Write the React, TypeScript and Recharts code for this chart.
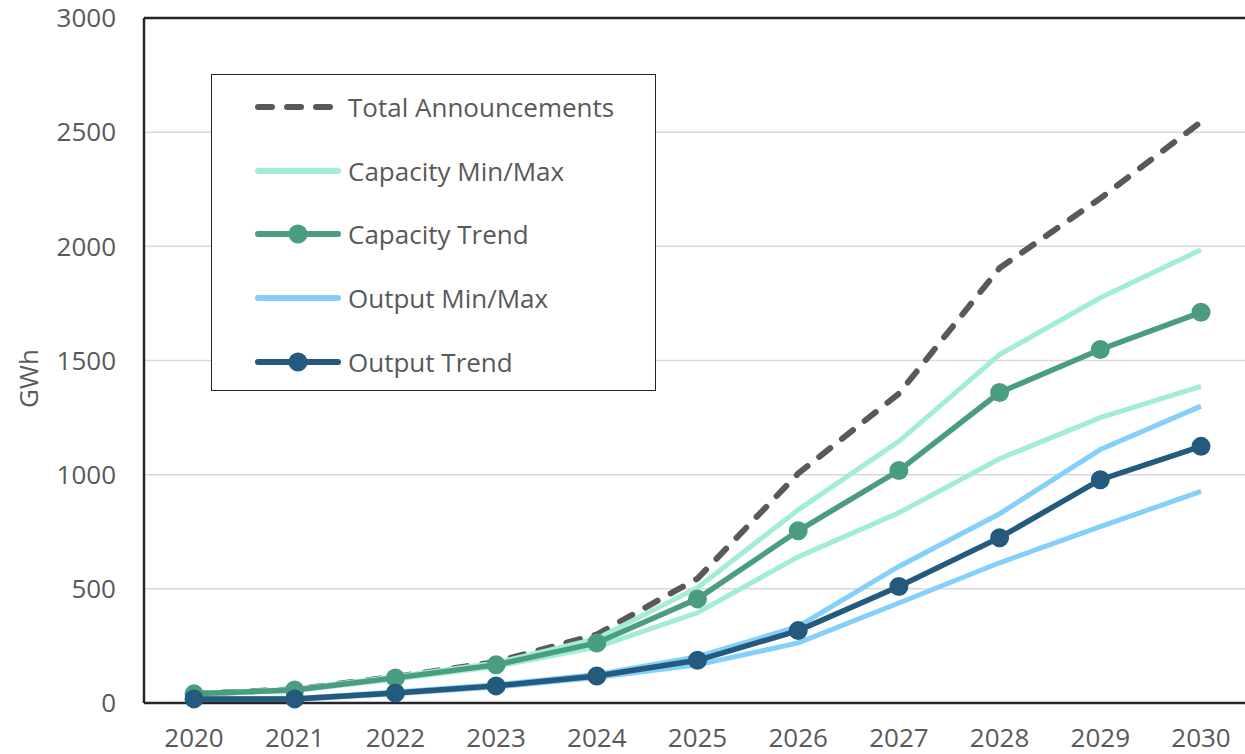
import { LineChart, Line, XAxis, YAxis, CartesianGrid, ReferenceLine } from 'recharts';

const years = ['2020', '2021', '2022', '2023', '2024', '2025', '2026', '2027', '2028', '2029', '2030'];
const totalAnnouncements = [40, 60, 115, 180, 300, 545, 1005, 1355, 1905, 2210, 2545];
const capacityMax = [42, 60, 115, 175, 282, 505, 846, 1146, 1526, 1775, 1985];
const capacityMin = [38, 55, 105, 160, 245, 395, 640, 833, 1070, 1250, 1387];
const capacityTrend = [40, 57, 110, 167, 263, 456, 754, 1018, 1360, 1548, 1711];
const outputMax = [20, 20, 48, 80, 125, 203, 335, 598, 829, 1110, 1300];
const outputMin = [15, 15, 40, 70, 112, 167, 263, 438, 614, 772, 927];
const outputTrend = [18, 18, 44, 75, 118, 187, 317, 510, 724, 978, 1124];
const yTicks = [0, 500, 1000, 1500, 2000, 2500, 3000];

const data = years.map((year, i) => ({
  year,
  total: totalAnnouncements[i],
  capMax: capacityMax[i],
  capMin: capacityMin[i],
  capTrend: capacityTrend[i],
  outMax: outputMax[i],
  outMin: outputMin[i],
  outTrend: outputTrend[i],
}));

const TEXT = '#595959';
const AXIS = '#262626';
const FONT = '"Open Sans", "Noto Sans", sans-serif';

const legendItems = [
  { name: 'Total Announcements', color: '#595959', dashed: true, dot: false },
  { name: 'Capacity Min/Max', color: '#a3ecd9', dashed: false, dot: false },
  { name: 'Capacity Trend', color: '#4a9e7f', dashed: false, dot: true },
  { name: 'Output Min/Max', color: '#85d0fa', dashed: false, dot: false },
  { name: 'Output Trend', color: '#245a7d', dashed: false, dot: true },
];

const GwhLabel = (props: any) => {
  const { viewBox } = props;
  const x = viewBox.x + 28;
  const y = viewBox.y + viewBox.height / 2 + 18;
  return (
    <text
      x={x}
      y={y}
      transform={`rotate(-90 ${x} ${y})`}
      textAnchor="middle"
      dominantBaseline="central"
      fill={TEXT}
      fontSize={26}
      fontFamily={FONT}
    >
      GWh
    </text>
  );
};

function LegendBox() {
  return (
    <div
      style={{
        position: 'absolute',
        left: 211,
        top: 74,
        width: 443,
        height: 315,
        border: `1.5px solid ${AXIS}`,
        background: '#fff',
        fontFamily: FONT,
        fontSize: 26,
        color: TEXT,
      }}
    >
      {legendItems.map((item, i) => (
        <div
          key={item.name}
          style={{ position: 'absolute', left: 42, top: 32 + i * 63.7 - 20, height: 40, display: 'flex', alignItems: 'center' }}
        >
          <svg width={90} height={24} style={{ display: 'block' }}>
            <line
              x1={4}
              x2={84}
              y1={12}
              y2={12}
              stroke={item.color}
              strokeWidth={6}
              strokeLinecap="round"
              strokeDasharray={item.dashed ? '14 15' : undefined}
            />
            {item.dot && <circle cx={44} cy={12} r={9.5} fill={item.color} />}
          </svg>
          <span style={{ marginLeft: 4, whiteSpace: 'nowrap' }}>{item.name}</span>
        </div>
      ))}
    </div>
  );
}

export default function App() {
  const dotStyle = (color: string) => ({ r: 8.5, fill: color, stroke: color, strokeWidth: 2 });
  return (
    <div style={{ position: 'fixed', left: 0, top: 0, width: 1245, height: 754, overflow: 'hidden', background: '#fff' }}>
      <LineChart
        width={1270}
        height={754}
        data={data}
        margin={{ top: 18, right: 19, left: 0, bottom: 0 }}
      >
        <CartesianGrid vertical={false} stroke="#d9d9d9" strokeWidth={1.5} />
        <XAxis
          dataKey="year"
          padding={{ left: 50, right: 50 }}
          axisLine={{ stroke: AXIS, strokeWidth: 2.5 }}
          tickLine={false}
          tickSize={0}
          tickMargin={26}
          height={51}
          interval={0}
          tick={{ fill: TEXT, fontSize: 26, fontFamily: FONT }}
        />
        <YAxis
          domain={[0, 3000]}
          ticks={yTicks}
          width={144}
          axisLine={{ stroke: AXIS, strokeWidth: 2.5 }}
          tickLine={false}
          tickSize={0}
          tickMargin={28}
          tick={{ fill: TEXT, fontSize: 26, fontFamily: FONT }}
          label={<GwhLabel />}
        />
        <ReferenceLine y={3000} stroke={AXIS} strokeWidth={2.5} />
        <Line dataKey="total" stroke="#595959" strokeWidth={6} strokeDasharray="14 15" strokeLinecap="round" dot={false} isAnimationActive={false} />
        <Line dataKey="capMax" stroke="#a3ecd9" strokeWidth={5} dot={false} isAnimationActive={false} />
        <Line dataKey="capMin" stroke="#a3ecd9" strokeWidth={5} dot={false} isAnimationActive={false} />
        <Line dataKey="capTrend" stroke="#4a9e7f" strokeWidth={5.5} dot={dotStyle('#4a9e7f')} isAnimationActive={false} />
        <Line dataKey="outMax" stroke="#85d0fa" strokeWidth={5} dot={false} isAnimationActive={false} />
        <Line dataKey="outMin" stroke="#85d0fa" strokeWidth={5} dot={false} isAnimationActive={false} />
        <Line dataKey="outTrend" stroke="#245a7d" strokeWidth={5.5} dot={dotStyle('#245a7d')} isAnimationActive={false} />
      </LineChart>
      <LegendBox />
    </div>
  );
}
